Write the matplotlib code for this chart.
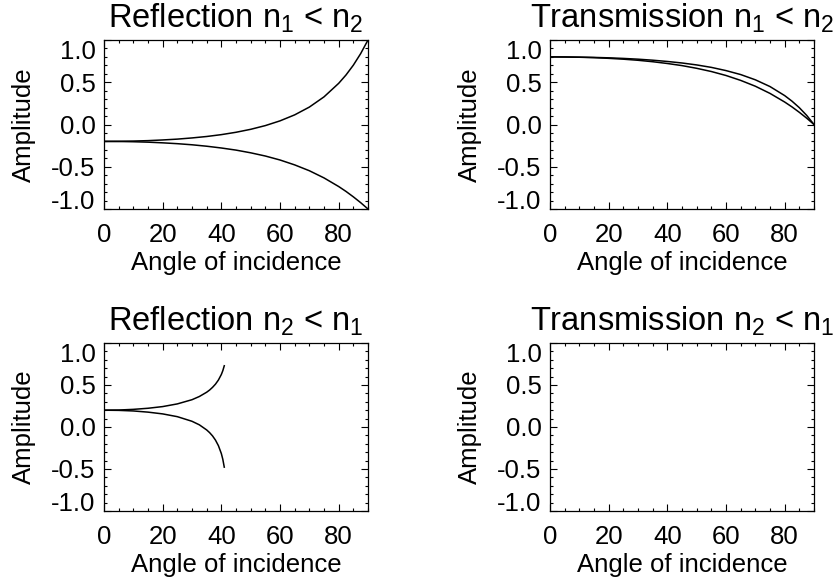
import numpy as np
import matplotlib
matplotlib.use("Agg")
import matplotlib.pyplot as plt

plt.rcParams['font.family'] = ['Liberation Sans', 'DejaVu Sans']
plt.rcParams['mathtext.fontset'] = 'custom'
plt.rcParams['mathtext.rm'] = 'Liberation Sans'
plt.rcParams['mathtext.it'] = 'Liberation Sans'

# n1 < n2, angle in degrees
ang_a = [0, 5, 10, 15, 20, 25, 30, 35, 40, 45, 50, 55, 60, 65, 70, 75, 80, 82.5, 85, 87.5, 90]
refl_s_a = [-0.200, -0.201, -0.204, -0.209, -0.217, -0.227, -0.240, -0.257, -0.278, -0.303, -0.335,
            -0.373, -0.420, -0.478, -0.547, -0.632, -0.734, -0.792, -0.856, -0.925, -1.0]
refl_p_a = [-0.200, -0.199, -0.196, -0.191, -0.183, -0.173, -0.159, -0.142, -0.120, -0.092, -0.057,
            -0.013, 0.043, 0.114, 0.206, 0.327, 0.487, 0.586, 0.702, 0.839, 1.0]
trans_s_a = [0.800, 0.799, 0.796, 0.791, 0.783, 0.773, 0.760, 0.743, 0.722, 0.697, 0.665,
             0.627, 0.580, 0.522, 0.453, 0.368, 0.266, 0.208, 0.144, 0.075, 0.0]
trans_p_a = [0.800, 0.799, 0.797, 0.794, 0.789, 0.782, 0.773, 0.761, 0.746, 0.728, 0.705,
             0.676, 0.638, 0.591, 0.529, 0.449, 0.342, 0.276, 0.199, 0.108, 0.0]

# n2 < n1 (bottom panels), stops just below the critical angle
ang_b = [0, 5, 10, 15, 20, 25, 30, 32.5, 35, 36, 37, 38, 39, 40, 40.5, 41]
refl_s_b = [0.200, 0.202, 0.210, 0.223, 0.243, 0.275, 0.325, 0.363, 0.414, 0.440, 0.472,
            0.510, 0.559, 0.625, 0.670, 0.729]
refl_p_b = [0.200, 0.198, 0.191, 0.177, 0.156, 0.123, 0.068, 0.026, -0.035, -0.067, -0.106,
            -0.156, -0.222, -0.316, -0.384, -0.478]
# transmission for n2 < n1 is above 1 everywhere, so it falls outside the plot range
ang_c = [0, 10, 20, 30, 35, 40, 41]
trans_s_b = [1.200, 1.210, 1.243, 1.325, 1.414, 1.625, 1.729]
trans_p_b = [1.200, 1.214, 1.266, 1.398, 1.552, 1.975, 2.217]

titles = [r'Reflection n$_1$ < n$_2$', r'Transmission n$_1$ < n$_2$',
          r'Reflection n$_2$ < n$_1$', r'Transmission n$_2$ < n$_1$']

fig = plt.figure(figsize=(8.35, 5.85), dpi=100)
pos = [[104, 40, 264, 169], [550, 40, 264, 169],
       [104, 343, 264, 168], [550, 343, 264, 168]]
axes = []
for p in pos:
    ax = fig.add_axes([p[0] / 835, 1 - (p[1] + p[3]) / 585, p[2] / 835, p[3] / 585])
    axes.append(ax)

axes[0].plot(ang_a, refl_s_a, color='black', lw=1.1)
axes[0].plot(ang_a, refl_p_a, color='black', lw=1.1)
axes[1].plot(ang_a, trans_s_a, color='black', lw=1.1)
axes[1].plot(ang_a, trans_p_a, color='black', lw=1.1)
axes[2].plot(ang_b, refl_s_b, color='black', lw=1.1)
axes[2].plot(ang_b, refl_p_b, color='black', lw=1.1)
axes[3].plot(ang_c, trans_s_b, color='black', lw=1.1)
axes[3].plot(ang_c, trans_p_b, color='black', lw=1.1)

for ax, t in zip(axes, titles):
    ax.set_xlim(0, 90)
    ax.set_ylim(-1, 1)
    ax.set_xticks([0, 20, 40, 60, 80])
    ax.set_xticks(np.arange(0, 91, 5), minor=True)
    ax.set_yticks([-1.0, -0.5, 0.0, 0.5, 1.0])
    ax.set_yticks(np.arange(-1.0, 1.01, 0.1), minor=True)
    ax.set_yticklabels(['-1.0', '-0.5', '0.0', '0.5', '1.0'])
    ax.tick_params(which='both', direction='in', top=True, right=True, width=0.8,
                   labelsize=18.5)
    ax.tick_params(which='major', length=5)
    ax.tick_params(which='minor', length=2.5)
    ax.tick_params(axis='x', pad=10)
    ax.tick_params(axis='y', pad=6)
    for s in ax.spines.values():
        s.set_linewidth(0.9)
    ax.set_title(t, fontsize=23.5, pad=9)
    ax.set_xlabel('Angle of incidence', fontsize=18.5)
    ax.set_ylabel('Amplitude', fontsize=18.5)
    ax.yaxis.set_label_coords(-0.257, 0.5)
    ax.xaxis.set_label_coords(0.5, -0.25)
    labs = ax.get_yticklabels()
    labs[0].set_va('baseline')
    labs[-1].set_va('top')

fig.savefig('out.png', dpi=100)
